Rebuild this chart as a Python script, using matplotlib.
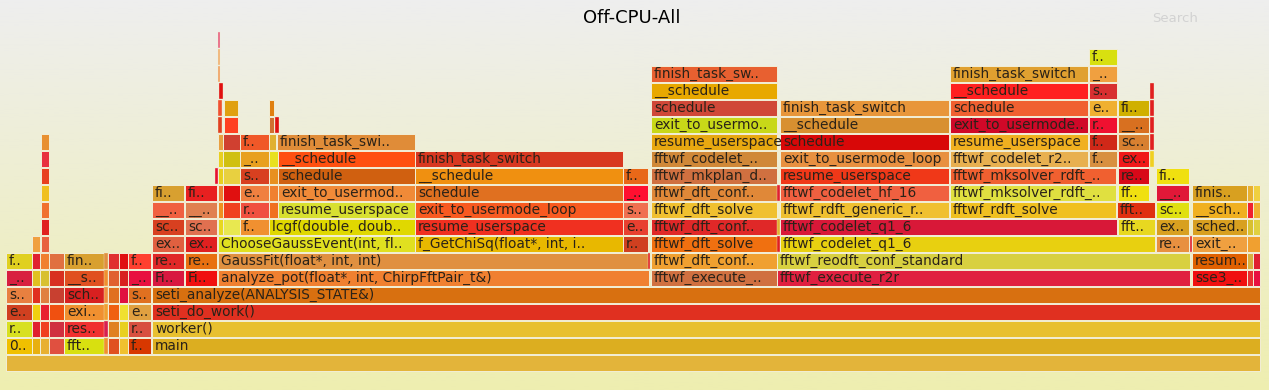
import numpy as np
import matplotlib
matplotlib.use("Agg")
import matplotlib.pyplot as plt
from matplotlib.colors import to_rgb

# ---------------- data: (stack depth, first sample, last sample, label) ----------------
title = "Off-CPU-All"

base_frames = [
    (0, 0, 1254, ""),
    (1, 146, 1254, "main"),
    (2, 146, 1254, "worker()"),
    (3, 146, 1254, "seti_do_work()"),
    (4, 146, 1254, "seti_analyze(ANALYSIS_STATE&)"),
]
base_colors = ["#e3b43a", "#dcae20", "#e8c030", "#e03020", "#d87010"]

left_frames = [
    (1, 0, 26, "0.."), (2, 0, 26, "r.."), (3, 0, 26, "e.."), (4, 0, 26, "s.."), (5, 0, 26, "_.."), (6, 0, 26, "f.."),
    (1, 26, 34, ""), (2, 26, 34, ""), (3, 26, 34, ""), (4, 26, 34, ""), (5, 26, 34, ""), (6, 26, 34, ""), (7, 26, 34, ""),
    (1, 34, 43, ""), (2, 34, 43, ""), (3, 34, 43, ""), (4, 34, 43, ""), (5, 34, 43, ""), (6, 34, 43, ""),
    (7, 35, 43, ""), (8, 35, 43, ""), (9, 35, 43, ""), (10, 35, 43, ""), (11, 35, 43, ""), (12, 35, 43, ""), (13, 35, 43, ""),
    (1, 43, 58, ""), (2, 43, 58, ""), (3, 43, 58, ""), (4, 43, 58, ""), (5, 43, 58, ""), (6, 43, 58, ""),
    (1, 58, 98, "fft.."), (2, 58, 98, "res.."), (3, 58, 98, "exi.."), (4, 58, 98, "sch.."), (5, 58, 98, "__s.."), (6, 58, 98, "fin.."),
    (1, 98, 102, ""), (2, 98, 102, ""), (3, 98, 102, ""), (4, 98, 102, ""), (5, 98, 102, ""), (6, 98, 102, ""),
    (1, 102, 113, ""), (2, 102, 113, ""), (3, 102, 113, ""), (4, 102, 113, ""), (5, 102, 113, ""), (6, 102, 113, ""),
    (1, 113, 122, ""), (2, 113, 122, ""), (3, 113, 122, ""), (4, 113, 122, ""), (5, 113, 122, ""), (6, 113, 122, ""),
    (1, 122, 145, "f.."), (2, 122, 145, "r.."), (3, 122, 145, "e.."), (4, 122, 145, "s.."), (5, 122, 145, "_.."), (6, 122, 145, "f.."),
]
left_colors = [
    "#f0c000", "#d8e020", "#d04020", "#e88040", "#d82040", "#e0d020",
    "#e8b010", "#e02030", "#f0d010", "#e03020", "#e0c020", "#e02030", "#f0a040",
    "#e8b030", "#f04020", "#e82030", "#e08040", "#d8c030", "#f08030",
    "#e86040", "#e02020", "#f07030", "#f0c020", "#e84020", "#e83040", "#e89030",
    "#e05040", "#d03040", "#f05010", "#c84030", "#d83020", "#e07040",
    "#d8e010", "#f03030", "#f09030", "#d82020", "#e05020", "#d8a030",
    "#f09030", "#d82050", "#f0a030", "#f09040", "#f09030", "#e09040",
    "#e05020", "#e08020", "#f06010", "#e07020", "#e06030", "#e03030",
    "#f0c030", "#e8d020", "#f0e030", "#e01040", "#d82020", "#e01010",
    "#d83800", "#d85040", "#e0a040", "#e07020", "#e81040", "#ff4030",
]

fit_frames = [
    (5, 146, 178, "Fi.."), (6, 146, 178, "re.."), (7, 146, 178, "ex.."), (8, 146, 178, "sc.."), (9, 146, 178, "__.."), (10, 146, 178, "fi.."),
    (5, 179, 211, "Fi.."), (6, 179, 211, "re.."), (7, 179, 211, "ex.."), (8, 179, 211, "sc.."), (9, 179, 211, "__.."), (10, 179, 211, "fi.."),
    (5, 212, 643, "analyze_pot(float*, int, ChirpFftPair_t&)"),
    (6, 212, 642, "GaussFit(float*, int, int)"), (6, 642, 644, ""),
    (7, 212, 409, "ChooseGaussEvent(int, fl.."),
    (7, 409, 617, "f_GetChiSq(float*, int, i.."), (7, 617, 642, "r.."),
]
fit_colors = [
    "#d81840", "#e02828", "#e06040", "#d84020", "#f06040", "#d8a030",
    "#f01010", "#e87010", "#e02020", "#e07050", "#e08050", "#e82020",
    "#f08030",
    "#e09040", "#e02020",
    "#e0e020",
    "#e8b800", "#d04020",
]

gauss_frames = [
    (8, 212, 217, ""), (8, 217, 234, ""), (8, 234, 263, "f.."), (8, 263, 409, "lcgf(double, doub.."),
    (9, 212, 217, ""), (9, 217, 234, ""), (9, 234, 263, "r.."), (9, 263, 272, ""), (9, 272, 409, "resume_userspace"),
    (10, 212, 217, ""), (10, 217, 234, ""), (10, 234, 263, "e.."), (10, 263, 272, ""), (10, 272, 409, "exit_to_usermod.."),
    (11, 209, 212, ""), (11, 212, 217, ""), (11, 217, 234, ""), (11, 234, 263, "s.."), (11, 263, 272, ""), (11, 272, 409, "schedule"),
    (12, 212, 217, ""), (12, 217, 234, ""), (12, 234, 263, "_.."), (12, 263, 272, ""), (12, 272, 409, "__schedule"),
    (13, 212, 217, ""), (13, 217, 234, ""), (13, 234, 263, "f.."), (13, 263, 270, ""), (13, 271, 409, "finish_task_swi.."),
    (14, 212, 216, ""), (14, 218, 232, ""), (14, 263, 268, ""), (14, 269, 273, ""),
    (15, 212, 216, ""), (15, 218, 232, ""), (15, 263, 268, ""),
    (16, 213, 217, ""), (17, 212, 214, ""), (18, 212, 214, ""), (19, 212, 214, ""),
]
gauss_colors = [
    "#e8d820", "#e8e850", "#f09030", "#e0d800",
    "#f09020", "#f04020", "#f05040", "#f07020", "#d8e030",
    "#f08030", "#e01010", "#f08040", "#f08030", "#f08a38",
    "#e81030", "#e8d020", "#e8d040", "#d84020", "#e89020", "#d06010",
    "#e8d020", "#d0c010", "#e8a020", "#e8e020", "#ff5010",
    "#e8a040", "#d04030", "#f05828", "#e0b030", "#e08c38",
    "#e04020", "#ff4020", "#d07030", "#e01010",
    "#f05030", "#e0a010", "#e08010",
    "#e01010", "#f0a060", "#f0b070", "#e86080",
]

chisq_frames = [
    (8, 409, 617, "resume_userspace"), (9, 409, 617, "exit_to_usermode_loop"), (10, 409, 617, "schedule"),
    (11, 409, 617, "__schedule"), (12, 409, 617, "finish_task_switch"),
    (8, 617, 642, "e.."), (9, 617, 642, "s.."), (10, 617, 642, "_.."), (11, 617, 642, "f.."),
]
chisq_colors = ["#f03020", "#f85a20", "#e07020", "#f09010", "#d83820",
                "#e84030", "#f07050", "#ff1030", "#e86818"]

plan_frames = [
    (5, 645, 771, "fftwf_execute_.."), (6, 645, 771, "fftwf_dft_conf.."), (7, 645, 771, "fftwf_dft_solve"),
    (8, 645, 771, "fftwf_dft_conf.."), (9, 645, 771, "fftwf_dft_solve"), (10, 645, 771, "fftwf_dft_conf.."),
    (11, 645, 771, "fftwf_mkplan_d.."), (12, 645, 771, "fftwf_codelet_.."), (13, 645, 771, "resume_userspace"),
    (14, 645, 771, "exit_to_usermo.."), (15, 645, 771, "schedule"), (16, 645, 771, "__schedule"),
    (17, 645, 771, "finish_task_sw.."),
]
plan_colors = ["#d07040", "#f0a030", "#f07010", "#e02828", "#f0c030", "#e08838",
               "#d07040", "#d08838", "#e8a810", "#c8d818", "#d04838", "#e8a800", "#e86030"]

r2r_frames = [
    (5, 771, 1184, "fftwf_execute_r2r"), (6, 771, 1184, "fftwf_reodft_conf_standard"),
    (7, 771, 774, ""), (7, 774, 1149, "fftwf_codelet_q1_6"), (7, 1150, 1183, "re.."), (7, 1184, 1186, ""),
    (8, 771, 774, ""), (8, 774, 1111, "fftwf_codelet_q1_6"), (8, 1112, 1149, "fft.."), (8, 1150, 1183, "ex.."),
    (9, 774, 943, "fftwf_rdft_generic_r.."), (9, 944, 1110, "fftwf_rdft_solve"), (9, 1111, 1149, "fft.."), (9, 1150, 1183, "sc.."),
    (10, 771, 774, ""), (10, 774, 943, "fftwf_codelet_hf_16"), (10, 944, 1110, "fftwf_mksolver_rdft_.."),
    (10, 1112, 1143, "ff.."), (10, 1150, 1183, "__.."),
    (11, 774, 943, "resume_userspace"), (11, 944, 1110, "fftwf_mksolver_rdft_.."), (11, 1112, 1143, "re.."), (11, 1150, 1183, "fi.."),
    (12, 774, 943, "exit_to_usermode_loop"), (12, 944, 1082, "fftwf_codelet_r2.."), (12, 1083, 1111, "f.."),
    (12, 1112, 1143, "ex.."), (12, 1144, 1148, ""),
    (13, 774, 943, "schedule"), (13, 944, 1082, "resume_userspace"), (13, 1083, 1111, "f.."),
    (13, 1112, 1143, "sc.."), (13, 1144, 1148, ""),
    (14, 774, 943, "__schedule"), (14, 944, 1082, "exit_to_usermode.."), (14, 1083, 1111, "r.."),
    (14, 1112, 1143, "__.."), (14, 1144, 1148, ""),
    (15, 774, 943, "finish_task_switch"), (15, 944, 1082, "schedule"), (15, 1083, 1111, "e.."),
    (15, 1112, 1143, "fi.."), (15, 1144, 1148, ""),
    (16, 944, 1082, "__schedule"), (16, 1083, 1111, "s.."), (16, 1144, 1148, ""),
    (17, 944, 1082, "finish_task_switch"), (17, 1083, 1111, "_.."),
    (18, 1083, 1111, "f.."),
]
r2r_colors = [
    "#e02040", "#d8d040",
    "#e02020", "#e8d010", "#e89040", "#e02030",
    "#e0b030", "#d81838", "#e8d820", "#d8a020",
    "#f0c030", "#f0c020", "#e03010", "#e0e010",
    "#e02030", "#f06040", "#e0e040", "#f0e010", "#e01838",
    "#f03818", "#f06030", "#d80818", "#f0e010",
    "#e89040", "#e8b050", "#d89040", "#f01818", "#f0d020",
    "#d80808", "#f0b020", "#d02818", "#d88030", "#e02020",
    "#d89030", "#d00828", "#f01030", "#d87020", "#e02020",
    "#e8963a", "#f06030", "#f0b030", "#d0b000", "#e02020",
    "#ff2020", "#d83030", "#e02020",
    "#e0a030", "#f0a040",
    "#d8e010",
]

sse_frames = [
    (5, 1186, 1241, "sse3_.."), (6, 1186, 1241, "resum.."), (7, 1186, 1241, "exit_.."),
    (8, 1186, 1241, "sched.."), (9, 1186, 1241, "__sch.."), (10, 1186, 1241, "finis.."),
    (5, 1241, 1247, ""), (6, 1241, 1247, ""), (7, 1241, 1254, ""), (8, 1241, 1247, ""), (9, 1241, 1247, ""), (10, 1241, 1247, ""),
    (5, 1247, 1254, ""), (6, 1247, 1254, ""), (8, 1247, 1254, ""), (9, 1247, 1254, ""), (10, 1247, 1254, ""),
]
sse_colors = ["#f01010", "#e06000", "#f0a040", "#d8a020", "#f0b020", "#d8a020",
              "#e83030", "#d8b040", "#f0a030", "#d8c030", "#f02030", "#e8b030",
              "#e81040", "#e02030", "#e0d040", "#f0b030", "#f0d040"]

# ---------------- drawing ----------------
groups = [(base_frames, base_colors), (left_frames, left_colors), (fit_frames, fit_colors),
          (gauss_frames, gauss_colors), (chisq_frames, chisq_colors), (plan_frames, plan_colors),
          (r2r_frames, r2r_colors), (sse_frames, sse_colors)]

W, H = 1269, 390
fig = plt.figure(figsize=(W / 100, H / 100), dpi=100)
ax = fig.add_axes([0, 0, 1, 1])
x_lo, x_hi = -6, 1263
y_lo, y_hi = -19 / 17, 371 / 17
ax.set_xlim(x_lo, x_hi)
ax.set_ylim(y_lo, y_hi)
ax.axis("off")

# background gradient (#eeeeee top -> #eeeeb0 bottom)
top = np.array(to_rgb("#eeeeee"))
bot = np.array(to_rgb("#eeeeb0"))
t = np.linspace(0, 1, 256)[:, None]
grad = (top[None, :] * (1 - t) + bot[None, :] * t)[:, None, :]
ax.imshow(grad, extent=[x_lo, x_hi, y_lo, y_hi], aspect="auto", zorder=0, origin="upper")

bar_h = 16 / 17
for frames, colors in groups:
    lv = [f[0] for f in frames]
    st = [f[1] for f in frames]
    wd = [f[2] - f[1] for f in frames]
    lw = [0.7 if w > 4 else 0.25 for w in wd]
    bars = ax.barh(lv, wd, left=st, height=bar_h, align="edge", color=colors,
                   edgecolor="#f2eed6", linewidth=lw, zorder=2)
    for rect, (lvl, s, e, lab) in zip(bars.patches, frames):
        if lab:
            txt = ax.text(s + 3, lvl + bar_h / 2, lab, ha="left", va="center",
                          fontsize=9.9, color="#2a2218", family="DejaVu Sans", zorder=3)
            txt.set_clip_path(rect)

fig.text(631.5 / W, 1 - 18 / H, title, ha="center", va="center", fontsize=13, color="#000000",
         family="DejaVu Sans")
fig.text(1175 / W, 1 - 19 / H, "Search", ha="center", va="center", fontsize=9.5, color="#d2d2d2",
         family="DejaVu Sans")

fig.savefig("out.png", dpi=100)
